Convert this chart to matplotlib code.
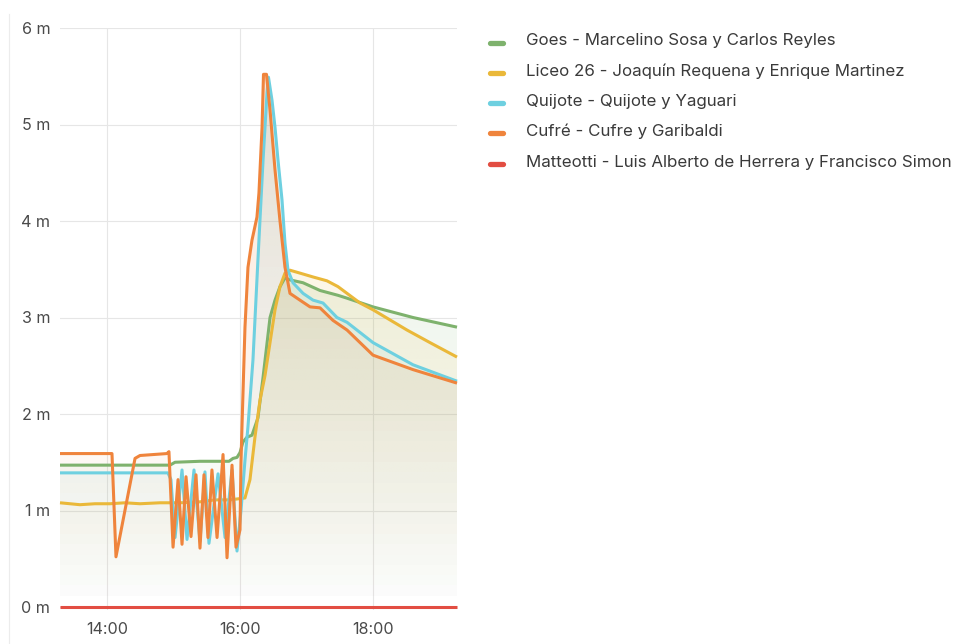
import numpy as np
import matplotlib
matplotlib.use('Agg')
import matplotlib.pyplot as plt
from matplotlib.patches import Polygon
from matplotlib.lines import Line2D
import matplotlib.colors as mcolors

plt.rcParams['font.family'] = ['Inter', 'DejaVu Sans']

# ---------------- data (time in minutes after midnight, level in m) ----------------
series_names = [
    "Goes - Marcelino Sosa y Carlos Reyles",
    "Liceo 26 - Joaquín Requena y Enrique Martinez",
    "Quijote - Quijote y Yaguari",
    "Cufré - Cufre y Garibaldi",
    "Matteotti - Luis Alberto de Herrera y Francisco Simon",
]
series_colors = ['#7EB26D', '#EAB839', '#6ED0E0', '#EF843C', '#E24D42']

goes_t = [797.6, 896.8, 901.4, 923.9, 950.1, 953.7, 957.3, 960.0, 962.7, 966.3, 970.8,
          976.2, 980.8, 987.1, 991.6, 996.1, 1000.6, 1005.1, 1016.9, 1032.2, 1048.4,
          1056.6, 1080.0, 1116.1, 1155.8]
goes_v = [1.47, 1.47, 1.50, 1.51, 1.51, 1.54, 1.55, 1.60, 1.71, 1.76, 1.78,
          1.96, 2.38, 3.00, 3.18, 3.32, 3.41, 3.39, 3.36, 3.28, 3.23,
          3.20, 3.11, 3.00, 2.90]

liceo_t = [797.6, 806.6, 815.6, 829.2, 842.7, 856.2, 869.8, 887.8, 905.9, 923.9, 937.5,
           951.0, 964.5, 969.0, 973.5, 978.0, 982.6, 987.1, 991.6, 996.1, 1000.6, 1005.1,
           1014.1, 1025.9, 1038.5, 1048.4, 1068.3, 1080.0, 1110.7, 1131.4, 1155.8]
liceo_v = [1.08, 1.07, 1.06, 1.07, 1.07, 1.08, 1.07, 1.08, 1.08, 1.09, 1.11,
           1.11, 1.13, 1.32, 1.76, 2.14, 2.40, 2.74, 3.08, 3.32, 3.46, 3.49,
           3.46, 3.42, 3.38, 3.32, 3.15, 3.08, 2.87, 2.74, 2.59]

quijote_t = [797.6, 895.0, 897.7, 901.4, 907.7, 912.2, 918.5, 923.9, 928.4, 932.0, 940.2,
             946.5, 952.8, 957.3, 960.9, 964.5, 967.2, 971.7, 976.2, 980.8, 984.4, 985.7,
             988.9, 991.6, 994.3, 997.9, 1000.6, 1003.3, 1007.8, 1016.9, 1025.9, 1034.9,
             1047.5, 1056.6, 1080.0, 1116.1, 1155.8]
quijote_v = [1.39, 1.39, 1.32, 0.72, 1.42, 0.70, 1.42, 0.68, 1.40, 0.66, 1.38,
             0.72, 1.42, 0.58, 1.00, 1.52, 1.87, 2.56, 3.60, 4.63, 5.33, 5.49,
             5.25, 4.97, 4.63, 4.22, 3.77, 3.49, 3.36, 3.25, 3.18, 3.15,
             3.00, 2.95, 2.74, 2.51, 2.34]

cufre_t = [797.6, 844.5, 848.1, 865.3, 869.8, 894.1, 895.9, 899.6, 904.1, 907.7, 911.3,
           915.8, 920.3, 923.9, 927.5, 931.1, 934.7, 939.3, 944.7, 948.3, 952.8, 956.4,
           960.0, 960.9, 961.8, 964.5, 967.2, 970.8, 975.3, 977.1, 979.9, 981.2, 983.9,
           987.1, 991.6, 996.1, 1000.6, 1003.3, 1005.1, 1014.1, 1023.2, 1032.2, 1043.9,
           1056.6, 1080.0, 1116.1, 1155.8]
cufre_v = [1.59, 1.59, 0.52, 1.54, 1.57, 1.59, 1.61, 0.62, 1.32, 0.65, 1.35,
           0.73, 1.37, 0.61, 1.37, 0.72, 1.42, 0.72, 1.58, 0.51, 1.47, 0.62,
           0.80, 1.50, 1.87, 2.90, 3.52, 3.80, 4.04, 4.29, 4.97, 5.52, 5.52,
           5.15, 4.53, 4.00, 3.52, 3.36, 3.25, 3.18, 3.11, 3.10, 2.97,
           2.87, 2.61, 2.46, 2.32]

matteotti_t = [797.6, 960.0, 1155.8]
matteotti_v = [0.0, 0.0, 0.0]

x_ticks = [840, 960, 1080]
x_tick_labels = ["14:00", "16:00", "18:00"]
y_ticks = [0, 1, 2, 3, 4, 5, 6]
y_tick_labels = ["0 m", "1 m", "2 m", "3 m", "4 m", "5 m", "6 m"]

all_t = [goes_t, liceo_t, quijote_t, cufre_t, matteotti_t]
all_v = [goes_v, liceo_v, quijote_v, cufre_v, matteotti_v]

# ---------------- figure ----------------
W, H = 965, 644
fig = plt.figure(figsize=(W / 100, H / 100), dpi=100)
fig.patch.set_facecolor('white')

ax_left, ax_right = 60, 457
y_top, y_zero = 28, 607
ppm = (y_zero - y_top) / 6.0
ymin = -0.03
y_bottom = y_zero - ymin * ppm
ax = fig.add_axes([ax_left / W, 1 - y_bottom / H, (ax_right - ax_left) / W, (y_bottom - y_top) / H])

XMIN, XMAX = 797.6, 1155.8
YMAX = 6.0
AMAX = 0.22

for t, v, c in zip(all_t, all_v, series_colors):
    t = np.asarray(t); v = np.asarray(v)
    verts = np.concatenate([np.column_stack([t, v]),
                            np.array([[t[-1], 0.0], [t[0], 0.0]])])
    poly = Polygon(verts, closed=True, facecolor='none', edgecolor='none')
    ax.add_patch(poly)
    rgb = mcolors.to_rgb(c)
    n = 300
    img = np.zeros((n, 2, 4))
    img[:, :, :3] = rgb
    img[:, :, 3] = np.linspace(AMAX, 0.0, n)[:, None]
    im = ax.imshow(img, aspect='auto', extent=[XMIN, XMAX, 0, YMAX], origin='upper',
                   zorder=1, interpolation='bilinear')
    im.set_clip_path(poly)

for t, v, c in zip(all_t, all_v, series_colors):
    ax.plot(t, v, color=c, lw=2.2, zorder=3, solid_joinstyle='round',
            solid_capstyle='butt', clip_on=False)

ax.set_xlim(XMIN, XMAX)
ax.set_ylim(ymin, YMAX)
ax.set_xticks(x_ticks)
ax.set_xticklabels(x_tick_labels)
ax.set_yticks(y_ticks)
ax.set_yticklabels(y_tick_labels)
ax.grid(True, color='#e6e6e6', lw=0.8, zorder=0)
ax.set_axisbelow(True)
for s in ax.spines.values():
    s.set_visible(False)
ax.tick_params(axis='both', length=0, labelsize=11.6, colors='#4a4a4a')
ax.tick_params(axis='y', pad=7)
ax.tick_params(axis='x', pad=9)
ax.set_facecolor('white')

# panel edge
fig.add_artist(Line2D([9 / W, 9 / W], [0, 1 - 14 / H], transform=fig.transFigure,
                      color='#ececec', lw=0.8))

# legend
leg_y = [42.5, 72.8, 103.1, 133.4, 163.7]
for name, c, yy in zip(series_names, series_colors, leg_y):
    fy = 1 - yy / H
    fig.add_artist(Line2D([490 / W, 503 / W], [fy, fy], transform=fig.transFigure,
                          color=c, lw=3.8, solid_capstyle='round'))
    fig.text(526 / W, 1 - (yy + 3.0) / H, name, fontsize=12.2, color='#3a3a3a',
             va='baseline', ha='left')

fig.savefig('out.png', dpi=100, facecolor='white')
